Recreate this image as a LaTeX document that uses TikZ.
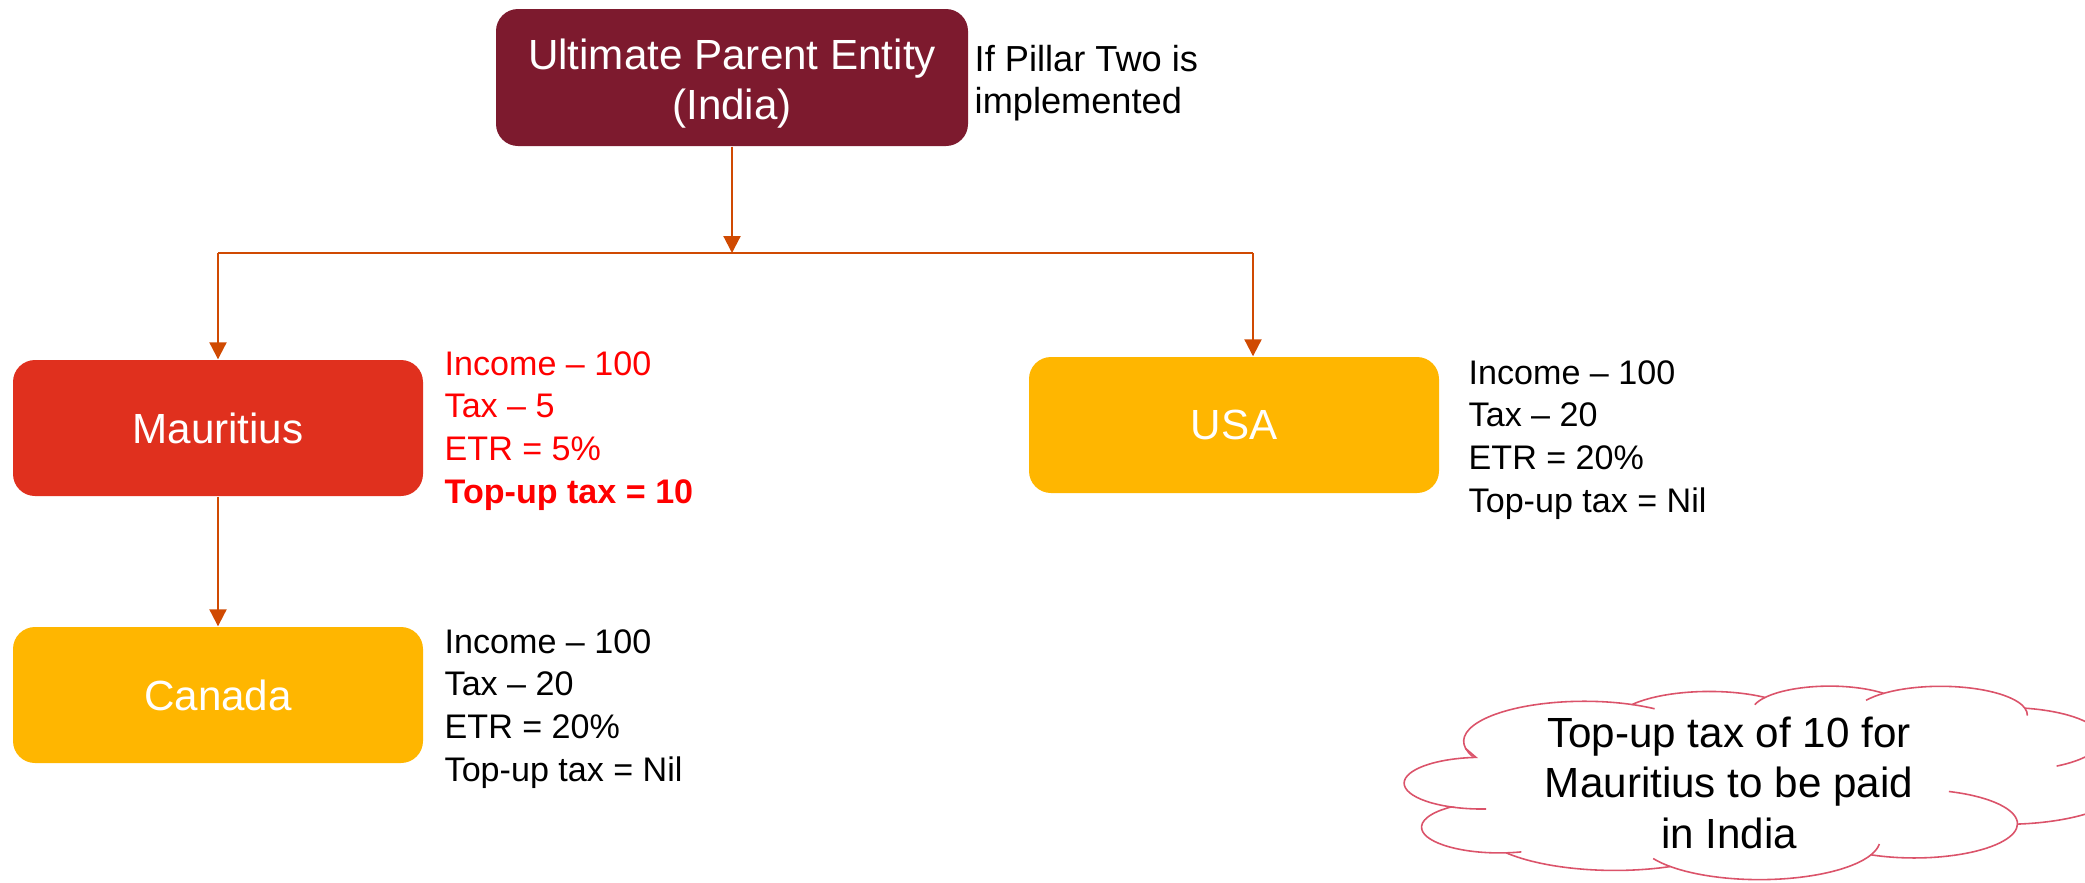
\documentclass[tikz,border=0pt]{standalone}
\usepackage{fontspec}
\setmainfont{Liberation Sans}
\usetikzlibrary{arrows.meta}
\definecolor{upec}{HTML}{7D1A2E}
\definecolor{mredc}{HTML}{E0301E}
\definecolor{amberc}{HTML}{FFB600}
\definecolor{connc}{HTML}{D04A02}
\definecolor{cloudc}{HTML}{DB536A}
\definecolor{alertc}{HTML}{FF0000}
\newcommand\infotext[3]{\parbox[t]{60mm}{\raggedright\fontsize{#1}{#2}\selectfont #3}}
\newcommand\cloudtext[1]{\parbox[t]{60mm}{\centering\fontsize{12}{14.4}\selectfont #1}}
\newcommand\lowered[1]{\raisebox{-0.6mm}[\height][\depth]{#1}}
\begin{document}
\begin{tikzpicture}[x=0.1mm,y=-0.1mm,
  box/.style={rounded corners=2.2mm, minimum width=41mm, minimum height=13.6mm, inner sep=0pt,
    text=white, font=\fontsize{12}{13.9}\selectfont, align=center},
  conn/.style={draw=connc, line width=0.6pt},
  arr/.style={conn, -{Triangle[width=1.7mm,length=1.7mm]}},
  info/.style={anchor=base west, inner sep=0pt},
  cloudline/.style={draw=cloudc, line width=0.45pt},
]
\useasboundingbox (0,0) rectangle (2085,882);
\clip (0,0) rectangle (2085,882);

% boxes
\node[box, fill=upec, minimum width=47.2mm, minimum height=13.7mm] (upe) at (732,77.5)
  {\lowered{\parbox{46mm}{\centering\fontsize{12}{14.2}\selectfont Ultimate Parent Entity\\(India)}}};
\node[box, fill=mredc] (mau) at (218,428) {Mauritius};
\node[box, fill=amberc] (usa) at (1234,425) {USA};
\node[box, fill=amberc] (can) at (218,695) {Canada};

% side texts
\node[info] (note) at (974,71) {\infotext{10.3}{12.1}{If Pillar Two is\\implemented}};
\node[info, text=alertc] (maut) at (444,375) {\infotext{9.7}{12.15}{Income – 100\\Tax – 5\\ETR = 5\%\\\textbf{Top-up tax = 10}}};
\node[info] (usat) at (1468,384) {\infotext{9.7}{12.15}{Income – 100\\Tax – 20\\ETR = 20\%\\Top-up tax = Nil}};
\node[info] (cant) at (444,653) {\infotext{9.7}{12.15}{Income – 100\\Tax – 20\\ETR = 20\%\\Top-up tax = Nil}};

% connectors
\coordinate (j) at (732,253);
\coordinate (jl) at (218,253);
\coordinate (jr) at (1253,253);
\draw[arr] (upe.south) -- (j);
\draw[conn] (jl) -- (jr);
\draw[arr] (jl) -- (mau.north);
\draw[arr] (jr) -- (jr |- usa.north);
\draw[arr] (mau.south) -- (can.north);

% cloud
\begin{scope}[xshift=139.6mm, yshift=-68.6mm, x=77.2mm, y=-18.8mm]
\coordinate (c0) at (0.09028,0.33264);
\filldraw[cloudline, fill=white] (c0)
  arc[start angle=-190.4875, delta angle=123.7805, x radius=0.15632, y radius=0.21273] coordinate (c1)
  arc[start angle=-144.1024, delta angle=89.9452, x radius=0.12345, y radius=0.16822] coordinate (c2)
  arc[start angle=-145.8079, delta angle=99.7230, x radius=0.10104, y radius=0.13762] coordinate (c3)
  arc[start angle=-130.9861, delta angle=117.2417, x radius=0.11243, y radius=0.15266] coordinate (c4)
  arc[start angle=-78.7089, delta angle=109.0269, x radius=0.12345, y radius=0.16836] coordinate (c5)
  arc[start angle=-46.2673, delta angle=130.2690, x radius=0.15683, y radius=0.21343] coordinate (c6)
  arc[start angle=0.6250, delta angle=114.0333, x radius=0.13391, y radius=0.18211] coordinate (c7)
  arc[start angle=22.4516, delta angle=115.1726, x radius=0.15630, y radius=0.21331] coordinate (c8)
  arc[start angle=66.2426, delta angle=75.7110, x radius=0.17870, y radius=0.24405] coordinate (c9)
  arc[start angle=-274.9421, delta angle=146.7356, x radius=0.10093, y radius=0.13699] coordinate (c10)
  arc[start angle=-246.8285, delta angle=152.5189, x radius=0.10058, y radius=0.13762] -- cycle;
\draw[cloudline] (c0) arc[start angle=-190.4875, delta angle=-11.858, x radius=0.15632, y radius=0.21273];
\draw[cloudline] (c1) arc[start angle=-66.707, delta angle=12.319, x radius=0.15632, y radius=0.21273];
\draw[cloudline] (c2) arc[start angle=-145.8079, delta angle=-17.686, x radius=0.10104, y radius=0.13762];
\draw[cloudline] (c3) arc[start angle=-130.9861, delta angle=-18.195, x radius=0.11243, y radius=0.15266];
\draw[cloudline] (c4) arc[start angle=-13.7444, delta angle=14.859, x radius=0.11243, y radius=0.15266];
\draw[cloudline] (c5) arc[start angle=30.318, delta angle=27.75, x radius=0.12345, y radius=0.16836];
\draw[cloudline] (c6) arc[start angle=0.625, delta angle=-70.917, x radius=0.13391, y radius=0.18211];
\draw[cloudline] (c7) arc[start angle=22.4516, delta angle=-15.998, x radius=0.15630, y radius=0.21331];
\draw[cloudline] (c8) arc[start angle=137.6242, delta angle=14.081, x radius=0.15630, y radius=0.21331];
\draw[cloudline] (c9) arc[start angle=-274.9421, delta angle=-11.447, x radius=0.10093, y radius=0.13699];
\draw[cloudline] (c10) arc[start angle=-246.8285, delta angle=-26.43, x radius=0.10058, y radius=0.13762];
\end{scope}
\node[anchor=base, inner sep=0pt] (cloudtxt) at (1729,747) {\cloudtext{Top-up tax of 10 for\\Mauritius to be paid\\in India}};
\end{tikzpicture}
\end{document}
